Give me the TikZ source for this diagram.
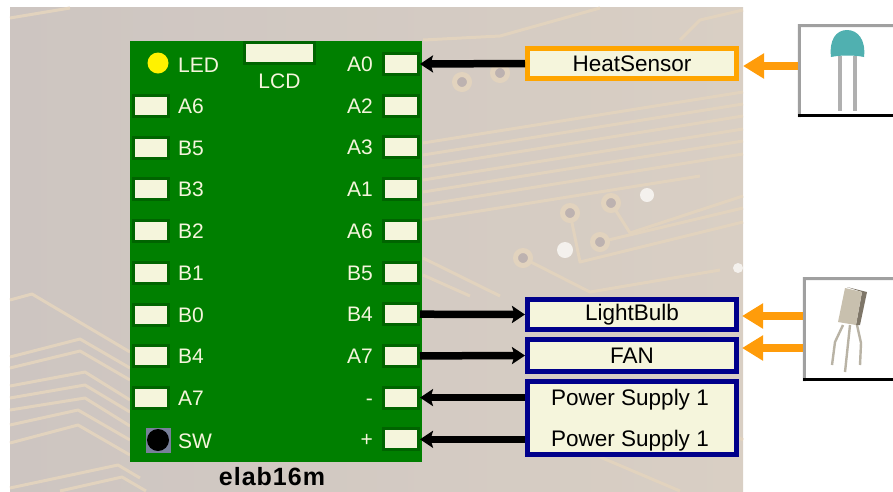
\documentclass[tikz,border=0pt]{standalone}
\usepackage{fontspec}
\setmainfont{Liberation Sans}
\usepackage{xcolor}
\usetikzlibrary{arrows.meta,positioning}
\definecolor{bgleft}{HTML}{CDC5C1}
\definecolor{bgright}{HTML}{D9CFC4}
\definecolor{traceline}{HTML}{E2D3BE}
\definecolor{viahole}{HTML}{BDB2B0}
\definecolor{boardgreen}{HTML}{007F00}
\definecolor{paddark}{HTML}{006400}
\definecolor{padcream}{HTML}{F5F5DC}
\definecolor{boxorange}{HTML}{FFA500}
\definecolor{boxnavy}{HTML}{00008B}
\definecolor{feedorange}{HTML}{FF9C0A}
\definecolor{framegray}{HTML}{A0A0A0}
\definecolor{domeblue}{HTML}{50B0B0}
\definecolor{leggray}{HTML}{B0B0B0}
\definecolor{bodytan}{HTML}{C8C0AE}
\definecolor{bodydark}{HTML}{7E7668}
\definecolor{swgray}{HTML}{78809A}

\begin{document}
\begin{tikzpicture}[
  x=1pt, y=-1pt,
  >=Stealth,
  trace/.style={draw=traceline, line width=3pt, line join=round},
  via/.style={circle, draw=traceline, fill=viahole, line width=5pt, minimum size=15pt, inner sep=0pt},
  pad/.style={rectangle, draw=paddark, fill=padcream, line width=3pt, minimum width=35pt, minimum height=21pt, inner sep=0pt},
  padlabel/.style={text=padcream, font=\fontsize{21}{24}\selectfont, inner sep=0pt, text height=15pt, text depth=0pt},
  rlabel/.style={padlabel, xshift=8pt},
  llabel/.style={padlabel, xshift=-9pt},
  infobox/.style={rectangle, draw=boxnavy, fill=padcream, line width=5pt, minimum width=209pt, inner sep=0pt, font=\fontsize{22.5}{26}\selectfont},
  flow/.style={draw=black, line width=7.5pt},
  outtip/.style={flow, -{Stealth[length=13pt,width=17pt,inset=2.5pt]}},
  feed/.style={draw=feedorange, line width=8pt, -{Triangle[length=21pt,width=24pt]}},
  photo/.style={rectangle, fill=white, inner sep=0pt}
]
  \useasboundingbox (0,0) rectangle (893,491);
  \fill[left color=bgleft, right color=bgright] (10,7) rectangle (743,491);

  \draw[trace] (10,300) -- (32,294) -- (130,352);
  \draw[trace] (10,357) -- (80,339) -- (130,368);
  \draw[trace] (10,368) -- (80,351) -- (130,380);
  \draw[trace] (10,386) -- (85,372) -- (130,400);
  \draw[trace] (10,398) -- (85,385) -- (130,412);
  \draw[trace] (10,410) -- (85,398) -- (130,426);
  \draw[trace] (10,425) -- (78,410) -- (130,440);
  \draw[trace] (10,443) -- (78,425) -- (130,455);
  \draw[trace] (10,488) -- (118,465) -- (140,478);
  \draw[trace] (60,491) -- (122,477) -- (146,491);
  \draw[trace] (10,18) -- (70,8);
  \draw[trace] (423,143) -- (743,92);
  \draw[trace] (423,155) -- (743,104);
  \draw[trace] (423,167) -- (743,116);
  \draw[trace] (423,180) -- (743,129);
  \draw[trace] (423,192) -- (743,141);
  \draw[trace] (423,205) -- (743,154);
  \draw[trace] (423,220) -- (700,176);
  \draw[trace] (423,40) -- (500,36) -- (600,8);
  \draw[trace] (680,40) -- (700,20) -- (743,10);
  \draw[trace] (570,213) -- (580,262) -- (743,222);
  \draw[trace] (611,203) -- (630,233) -- (743,196);
  \draw[trace] (600,242) -- (743,208);
  \draw[trace] (523,258) -- (590,292) -- (720,270);
  \draw[trace] (423,258) -- (500,296);
  \draw[trace] (423,275) -- (470,296);
  \draw[trace] (600,457) -- (680,491);
  \draw[trace] (640,380) -- (743,440);
  \node[via] (viaa) at (570,213) {};
  \node[via] (viab) at (611,203) {};
  \node[via] (viac) at (600,242) {};
  \node[via] (viad) at (523,258) {};
  \node[via] (viae) at (462,82) {};
  \node[via] (viaf) at (500,73) {};
  \fill[white!70!bgright] (647,195) circle (7);
  \fill[white!70!bgright] (565,250) circle (8);
  \fill[white!70!bgright] (738,268) circle (5);

  \node[rectangle, fill=boardgreen, minimum width=292pt, minimum height=421pt, inner sep=0pt] (board) at (276,251.5) {};
  \node[font=\fontsize{25}{28}\bfseries\selectfont\addfontfeature{LetterSpace=4}, inner sep=0pt] (boardname) at (272,477) {elab16m};

  \node[circle, fill=yellow, minimum size=21pt, inner sep=0pt] (led) at (158,63) {};
  \node[padlabel, anchor=west] (ledtext) at (178,65) {LED};
  \node[pad, minimum width=70pt, minimum height=21pt] (lcd) at (279.5,53) {};
  \node[padlabel, below=8pt of lcd] (lcdtext) {LCD};

  \node[pad, label={[rlabel]right:A6}] (la6) at (151,106) {};
  \node[pad, below=17.7pt of la6, label={[rlabel]right:B5}] (lb5) {};
  \node[pad, below=17.7pt of lb5, label={[rlabel]right:B3}] (lb3) {};
  \node[pad, below=17.7pt of lb3, label={[rlabel]right:B2}] (lb2) {};
  \node[pad, below=17.7pt of lb2, label={[rlabel]right:B1}] (lb1) {};
  \node[pad, below=17.7pt of lb1, label={[rlabel]right:B0}] (lb0) {};
  \node[pad, below=17.7pt of lb0, label={[rlabel]right:B4}] (lb4) {};
  \node[pad, below=17.7pt of lb4, label={[rlabel]right:A7}] (la7) {};

  \node[rectangle, fill=swgray, minimum size=25pt, inner sep=0pt] (swbase) at (158,440) {};
  \node[circle, fill=black, minimum size=22pt, inner sep=0pt] (swcap) at (swbase.center) {};
  \node[padlabel, anchor=west] (swtext) at (178,441) {SW};

  \node[pad, label={[llabel]left:A0}] (ra0) at (401,64) {};
  \node[pad, below=17.7pt of ra0, label={[llabel]left:A2}] (ra2) {};
  \node[pad, below=17.7pt of ra2, label={[llabel]left:A3}] (ra3) {};
  \node[pad, below=17.7pt of ra3, label={[llabel]left:A1}] (ra1) {};
  \node[pad, below=17.7pt of ra1, label={[llabel]left:A6}] (ra6) {};
  \node[pad, below=17.7pt of ra6, label={[llabel]left:B5}] (rb5) {};
  \node[pad, below=17.7pt of rb5, label={[llabel]left:B4}] (rb4) {};
  \node[pad, below=17.7pt of rb4, label={[llabel]left:A7}] (ra7) {};
  \node[pad, below=17.7pt of ra7, label={[llabel]left:-}] (rminus) {};
  \node[pad, below=17.7pt of rminus, label={[llabel]left:+}] (rplus) {};

  \node[infobox, draw=boxorange, minimum height=30pt] (heatbox) at (632,63.5) {HeatSensor};
  \node[infobox, minimum height=30pt] (bulbbox) at (632,314.5) {LightBulb};
  \node[infobox, minimum height=32pt, below=5pt of bulbbox] (fanbox) {FAN};
  \node[infobox, minimum height=73pt, below=5pt of fanbox] (powerbox) {};
  \node[font=\fontsize{22.5}{26}\selectfont, inner sep=0pt] (powera) at (630,399.5) {Power Supply 1};
  \node[font=\fontsize{22.5}{26}\selectfont, inner sep=0pt] (powerb) at (630,440.5) {Power Supply 1};

  \draw[outtip] (heatbox.west) -- (ra0.east);
  \draw[outtip] (rb4.east) -- (bulbbox.west);
  \draw[outtip] (ra7.east) -- (fanbox.west);
  \draw[outtip] (powerbox.west |- rminus) -- (rminus.east);
  \draw[outtip] (powerbox.west |- rplus) -- (rplus.east);

  \node[photo, minimum width=95pt, minimum height=93pt] (thermpic) at (845.5,70.5) {};
  \draw[framegray, line width=3pt] (thermpic.south west) ++(1.5,0) -- ++(0,-91.5) -- (thermpic.north east |- 0,25.5);
  \draw[black, line width=3pt] (798,115.5) -- (893,115.5);
  \draw[leggray, line width=3.5pt] (840,56) -- (840,111);
  \draw[leggray, line width=3.5pt] (855,56) -- (855,111);
  \fill[domeblue] (831,57) .. controls (829,40) and (836,30) .. (847,30) .. controls (858,30) and (866,40) .. (864,57) .. controls (855,55) and (840,55) .. (831,57) -- cycle;

  \node[photo, minimum width=90pt, minimum height=104pt] (bjtpic) at (848,329) {};
  \draw[framegray, line width=3pt] (bjtpic.south west) ++(1.5,0) -- ++(0,-102.5) -- (bjtpic.north east |- 0,278.5);
  \draw[black, line width=3pt] (803,379.5) -- (893,379.5);
  \draw[bodytan!80!gray, line width=2.4pt, line join=round] (843,325) -- (835,342) -- (832,365);
  \draw[bodytan!80!gray, line width=2.4pt, line join=round] (850,325) -- (845,372);
  \draw[bodytan!80!gray, line width=2.4pt, line join=round] (857,325) -- (861,343) -- (860,365);
  \fill[bodydark] (847,287) -- (867,292) -- (860,325) -- (856,325) -- (862,292) -- cycle;
  \fill[bodytan] (845,288) -- (862,292) -- (856,325) -- (838,322) -- cycle;

  \coordinate (heatin) at (743,66);
  \coordinate (bulbin) at (742,316);
  \coordinate (fanin) at (742,348);
  \draw[feed] (thermpic.west |- heatin) -- (heatin);
  \draw[feed] (bjtpic.west |- bulbin) -- (bulbin);
  \draw[feed] (bjtpic.west |- fanin) -- (fanin);
\end{tikzpicture}
\end{document}
